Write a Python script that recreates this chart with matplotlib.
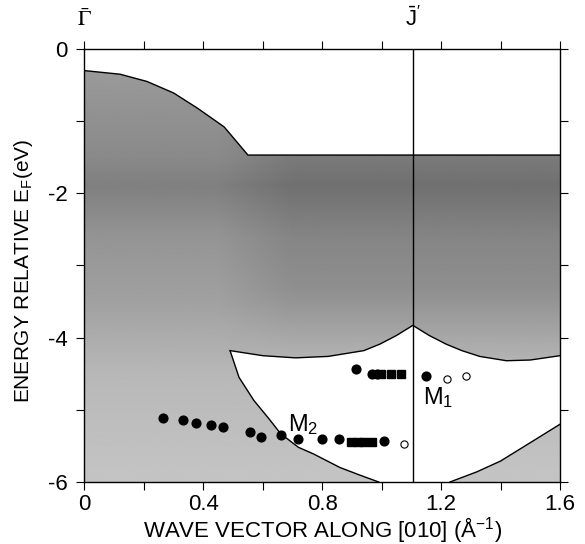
import numpy as np
import matplotlib
matplotlib.use("Agg")
import matplotlib.pyplot as plt
from matplotlib.path import Path
from matplotlib.patches import PathPatch

plt.rcParams['font.family'] = ['Liberation Sans', 'DejaVu Sans']
plt.rcParams['mathtext.fontset'] = 'custom'
plt.rcParams['mathtext.rm'] = 'Liberation Sans'
plt.rcParams['mathtext.it'] = 'Liberation Sans:italic'

# boundary of projected bulk bands (upper edge)
top_x = [0.0, 0.12, 0.21, 0.30, 0.38, 0.47, 0.55, 1.6]
top_y = [-0.30, -0.35, -0.45, -0.61, -0.82, -1.08, -1.47, -1.47]

# gap (pocket) upper edge, left to right
gap_top_x = [0.49, 0.60, 0.71, 0.82, 0.94, 0.994, 1.05, 1.105, 1.16, 1.217, 1.27, 1.33, 1.42, 1.50, 1.6]
gap_top_y = [-4.18, -4.25, -4.28, -4.26, -4.18, -4.09, -3.97, -3.83, -3.97, -4.09, -4.18, -4.26, -4.32, -4.31, -4.25]

# gap left edge, going down
gap_left_x = [0.49, 0.52, 0.57, 0.62, 0.66, 0.72, 0.77, 0.86, 0.93, 0.99]
gap_left_y = [-4.18, -4.55, -4.87, -5.12, -5.33, -5.52, -5.61, -5.80, -5.91, -6.0]

# lower right bulk edge
low_x = [1.23, 1.32, 1.40, 1.51, 1.6]
low_y = [-6.0, -5.86, -5.71, -5.43, -5.2]

# M1 surface state
m1_circ_x = [0.913, 0.966, 0.983, 1.149]
m1_circ_y = [-4.43, -4.50, -4.50, -4.53]
m1_sq_x = [0.999, 1.033, 1.066]
m1_sq_y = [-4.50, -4.51, -4.51]
m1_open_x = [1.221, 1.283]
m1_open_y = [-4.57, -4.53]

# M2 surface state
m2_circ_x = [0.263, 0.332, 0.375, 0.425, 0.467, 0.556, 0.595, 0.66, 0.719, 0.80, 0.856, 1.007]
m2_circ_y = [-5.11, -5.14, -5.18, -5.21, -5.24, -5.31, -5.37, -5.35, -5.40, -5.40, -5.40, -5.43]
m2_sq_x = [0.897, 0.919, 0.941, 0.969]
m2_sq_y = [-5.44, -5.44, -5.44, -5.44]
m2_open_x = [1.074]
m2_open_y = [-5.48]

j_point = 1.105

fig = plt.figure(figsize=(5.85, 5.44), dpi=100)
ax = fig.add_axes([0.1444, 0.114, 0.8128, 0.796])
ax.set_xlim(0, 1.6)
ax.set_ylim(-6, 0)

# shaded region (clip path)
verts_a = (list(zip(top_x, top_y)) + [(1.6, -4.25)]
           + list(zip(gap_top_x[::-1], gap_top_y[::-1]))[1:]
           + list(zip(gap_left_x, gap_left_y))[1:]
           + [(0.0, -6.0), (0.0, top_y[0])])
verts_b = list(zip(low_x, low_y)) + [(1.6, -6.0), (low_x[0], low_y[0])]
pa = Path(verts_a, [Path.MOVETO] + [Path.LINETO] * (len(verts_a) - 2) + [Path.CLOSEPOLY])
pb = Path(verts_b, [Path.MOVETO] + [Path.LINETO] * (len(verts_b) - 2) + [Path.CLOSEPOLY])
clip = PathPatch(Path.make_compound_path(pa, pb), facecolor='none', edgecolor='none',
                 transform=ax.transData)
ax.add_patch(clip)

# grey shading field
gx = np.linspace(0, 1.6, 320)
gy = np.linspace(-6, 0, 600)
GX, GY = np.meshgrid(gx, gy)
shade = np.interp(-GY, [0, 1.5, 1.9, 2.6, 3.5, 4.5, 6.0],
                  [0.62, 0.54, 0.50, 0.58, 0.63, 0.72, 0.77])
right = np.clip((GX - 0.45) / 0.25, 0, 1) * np.clip((GY + 4.3) / 1.0, 0, 1)
shade = shade - 0.06 * right
im = ax.imshow(shade, extent=[0, 1.6, -6, 0], origin='lower', aspect='auto',
               cmap='gray', vmin=0, vmax=1, interpolation='bilinear', zorder=1)
im.set_clip_path(clip)

lw = 1.0
ax.plot(top_x, top_y, color='black', lw=lw, zorder=2)
ax.plot(gap_top_x, gap_top_y, color='black', lw=lw, zorder=2)
ax.plot(gap_left_x, gap_left_y, color='black', lw=lw, zorder=2)
ax.plot(low_x, low_y, color='black', lw=lw, zorder=2)
ax.axvline(j_point, color='black', lw=1.0, zorder=2)

ax.plot(m1_circ_x, m1_circ_y, 'o', color='black', ms=6.3, zorder=3)
ax.plot(m1_sq_x, m1_sq_y, 's', color='black', ms=5.3, zorder=3)
ax.plot(m1_open_x, m1_open_y, 'o', mfc='white', mec='black', mew=0.8, ms=5.2, zorder=3)
ax.plot(m2_circ_x, m2_circ_y, 'o', color='black', ms=6.3, zorder=3)
ax.plot(m2_sq_x, m2_sq_y, 's', color='black', ms=5.3, zorder=3)
ax.plot(m2_open_x, m2_open_y, 'o', mfc='white', mec='black', mew=0.8, ms=5.2, zorder=3)

ax.text(0.735, -5.2, r'M$_2$', fontsize=17, ha='center', va='center', zorder=4)
ax.text(1.19, -4.83, r'M$_1$', fontsize=17, ha='center', va='center', zorder=4)

ax.text(0.0, 0.25, r'$\bar{\Gamma}$', fontsize=16, ha='center', va='bottom',
        math_fontfamily='stix')
ax.text(j_point, 0.25, r"$\bar{\mathrm{J}}'$", fontsize=16, ha='center', va='bottom')

ax.set_xticks(np.arange(0, 1.61, 0.2))
ax.set_xticklabels(['0', '', '0.4', '', '0.8', '', '1.2', '', '1.6'])
ax.set_yticks(np.arange(-6, 0.1, 1))
ax.set_yticklabels(['-6', '', '-4', '', '-2', '', '0'])
ax.tick_params(direction='out', length=6, width=0.8, labelsize=16, top=True, right=True)
ax.tick_params(axis='x', pad=3)
ax.tick_params(axis='y', pad=6)
for s in ax.spines.values():
    s.set_linewidth(1.0)

ax.set_xlabel(r'WAVE VECTOR ALONG [010] ($\mathrm{\AA}^{-1}$)', fontsize=16, va='baseline')
ax.xaxis.set_label_coords(0.5, -0.128)
ax.set_ylabel(r'ENERGY RELATIVE E$_\mathrm{F}$(eV)', fontsize=15)
ax.yaxis.set_label_coords(-0.104, 0.487)

fig.savefig('out.png', dpi=100)
